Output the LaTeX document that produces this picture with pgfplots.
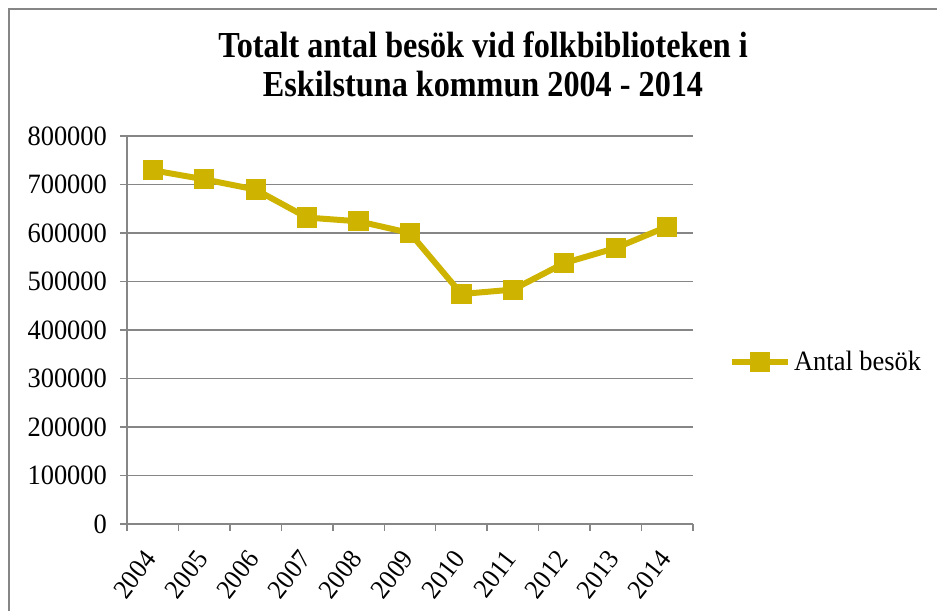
\documentclass[border=0pt]{standalone}
\usepackage{pgfplots}
\pgfplotsset{compat=1.18}
\usepackage{fontspec}
\setmainfont{Liberation Serif}[FakeStretch=0.945]
\newfontfamily\titlefont{Liberation Serif}[FakeStretch=0.88]
\definecolor{linecol}{RGB}{206,180,0}
\definecolor{gridcol}{RGB}{134,134,134}
\begin{document}
\begin{tikzpicture}
\useasboundingbox (0,0) rectangle (468.5pt,305.5pt);
\draw[gridcol, line width=1pt] (4.5pt,0) -- (4.5pt,301pt) -- (468.5pt,301pt);
\node[font=\titlefont\fontsize{18.3}{19.5}\selectfont\bfseries, align=center] at (241.5pt,273.5pt)
  {Totalt antal besök vid folkbiblioteken i\\Eskilstuna kommun 2004 - 2014};
\begin{axis}[
  at={(63.5pt,43.5pt)}, anchor=south west,
  scale only axis, width=283pt, height=194pt,
  xmin=-0.5, xmax=10.5, ymin=0, ymax=800000,
  ytick={0,100000,...,800000},
  scaled y ticks=false,
  /pgf/number format/.cd, 1000 sep={}, fixed, assume math mode=true,
  /pgfplots/.cd,
  xtick={0,...,10},
  xticklabels={2004,2005,2006,2007,2008,2009,2010,2011,2012,2013,2014},
  minor xtick={-0.5,0.5,...,10.5},
  major x tick style={draw=none},
  minor x tick style={gridcol, line width=0.75pt},
  y tick style={gridcol, line width=0.75pt},
  tick align=outside,
  major tick length=3.5pt, minor tick length=3.5pt,
  ymajorgrids, grid style={gridcol, line width=0.75pt},
  axis x line*=bottom, axis y line*=left,
  axis line style={gridcol, line width=0.75pt, -},
  ticklabel style={font=\fontsize{14}{15}\selectfont},
  xticklabel style={font=\fontsize{13.5}{15}\selectfont, rotate=52, anchor=north east, inner sep=0pt, yshift=-1.6pt, xshift=-9.7pt},
  yticklabel style={xshift=-3pt},
  legend style={at={(1.063,0.4175)}, anchor=west, draw=none, fill=none,
    font=\fontsize{14}{15}\selectfont, inner sep=0pt, nodes={inner xsep=1.5pt}},
  legend cell align=left,
  legend image code/.code={
    \draw[#1, mark repeat=2, mark phase=2] plot coordinates {(0pt,0pt) (14pt,0pt) (28pt,0pt)};},
]
\addplot[color=linecol, line width=3pt, mark=square*, mark size=4.8pt,
  mark options={solid, line width=0pt, fill=linecol}] coordinates {
  (0,729300) (1,710700) (2,689500) (3,631800) (4,624100) (5,600000)
  (6,474200) (7,483300) (8,538100) (9,569100) (10,613200)};
\addlegendentry{Antal besök}
\end{axis}
\end{tikzpicture}
\end{document}
